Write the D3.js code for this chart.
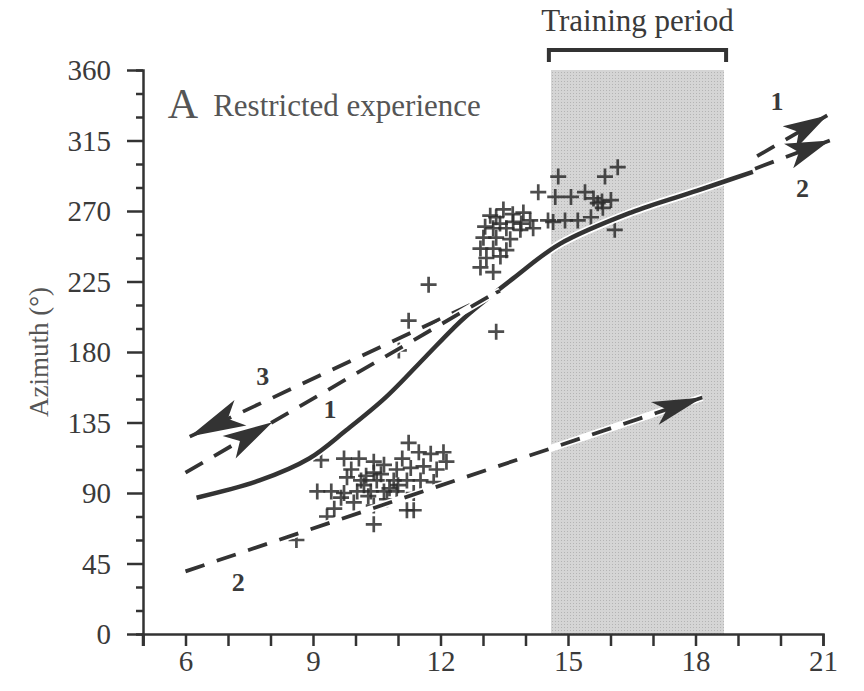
<!DOCTYPE html>
<html lang="en">
<head>
<meta charset="UTF-8">
<title>Restricted experience</title>
<script src="https://d3js.org/d3.v7.min.js"></script>
<style>
  body { margin: 0; background: #fff; }
  svg { display: block; }
  text { font-family: "Liberation Serif", "DejaVu Serif", serif; fill: #3a3a3a; }
  .tick-label { font-size: 29px; }
  .num { font-size: 26px; font-weight: bold; }
</style>
</head>
<body>
<script>
// time of day (h) vs azimuth (deg)
const trainStart = 14.6, trainEnd = 18.67;

const solidX = [6.26, 7.74, 8.91, 9.78, 10.71, 11.65, 12.26, 12.61, 13.71, 14.81, 16.48, 18.04, 19.35];
const solidY = [87, 98, 112, 130, 151, 177, 194, 203, 227, 249, 269, 283, 295];

// dashed lines: [x0, x1], [y0, y1]
const line3X = [13.4, 6.1],   line3Y = [219, 126];
const line1X = [6.0, 13.3],   line1Y = [103, 218];
const line2X = [6.0, 18.16],  line2Y = [40, 151];
const lineAX = [19.45, 21.1], lineAY = [305, 331];
const lineBX = [19.4, 21.16], lineBY = [297, 315];

// pluses, morning group and afternoon group
const amX = [9.19, 9.73, 10.08, 10.43, 11.25, 11.49, 11.77, 12.07, 12.14, 10.67, 10.43, 10.97, 11.30, 11.60, 11.91,
  9.80, 10.13, 10.50, 10.90, 11.21, 11.53, 11.84, 9.10, 9.43, 9.73, 10.04, 10.36, 10.67, 10.97, 11.37,
  9.66, 9.96, 10.43, 10.74, 11.21, 11.37, 9.50, 10.43, 8.61, 9.33,
  10.20, 10.60, 11.00, 10.30, 9.90, 11.10, 10.80, 10.25];
const amY = [111, 112, 112, 110, 122, 116, 115, 116, 110, 108, 103, 105, 106, 107, 105,
  100, 98, 98, 98, 98, 98, 97, 91, 91, 90, 91, 91, 91, 91, 90,
  87, 84, 82, 86, 79, 79, 80, 70, 60, 75,
  95, 102, 95, 88, 105, 112, 93, 101];
const pmX = [13.48, 13.95, 13.17, 13.31, 13.71, 14.11, 13.24, 13.55, 13.88, 14.18, 13.01, 13.31, 13.64,
  12.94, 13.24, 13.55, 13.08, 13.41, 12.94, 13.24, 14.65, 14.77, 15.87, 16.17, 14.30, 14.70, 15.07,
  15.40, 15.70, 16.01, 15.82, 14.53, 14.93, 15.23, 15.54, 16.10, 11.72, 11.25, 11.02, 13.31,
  13.70, 13.90, 13.40, 13.05, 15.60, 15.80];
const pmY = [271, 269, 267, 266, 263, 264, 259, 259, 258, 259, 253, 253, 252,
  246, 246, 245, 240, 241, 234, 231, 263, 292, 292, 298, 282, 279, 279,
  282, 275, 277, 272, 264, 264, 264, 266, 258, 223, 200, 181, 193,
  268, 262, 262, 260, 278, 276];

const xTicks = [6, 9, 12, 15, 18, 21];
const yTicks = [0, 45, 90, 135, 180, 225, 270, 315, 360];

const numLabels = [
  { t: "1", x: 19.92, y: 340 }, { t: "2", x: 20.52, y: 285 },
  { t: "3", x: 7.82, y: 165 }, { t: "1", x: 9.4, y: 144 }, { t: "2", x: 7.24, y: 33 }
];

const W = 864, H = 691;
const x = d3.scaleLinear().domain([5, 21]).range([143, 823]);
const y = d3.scaleLinear().domain([0, 360]).range([634, 70]);
const ink = "#333";

const svg = d3.select("body").append("svg").attr("width", W).attr("height", H);

const defs = svg.append("defs");
const pat = defs.append("pattern").attr("id", "dots")
  .attr("width", 3).attr("height", 3).attr("patternUnits", "userSpaceOnUse");
pat.append("rect").attr("width", 3).attr("height", 3).attr("fill", "#d5d5d5");
pat.append("rect").attr("width", 1).attr("height", 1).attr("fill", "#b4b4b4");

// training period shading + bracket
svg.append("rect")
  .attr("x", x(trainStart)).attr("y", y(360))
  .attr("width", x(trainEnd) - x(trainStart)).attr("height", y(0) - y(360))
  .attr("fill", "url(#dots)");

svg.append("path")
  .attr("d", `M${x(trainStart - 0.05)},${62}V${50}H${x(trainEnd + 0.05)}V${62}`)
  .attr("fill", "none").attr("stroke", ink).attr("stroke-width", 4);
svg.append("text").attr("x", (x(trainStart) + x(trainEnd)) / 2).attr("y", 31)
  .attr("text-anchor", "middle").style("font-size", "31px").text("Training period");

// axes
const yAxis = svg.append("g").attr("transform", `translate(${x(5)},0)`)
  .call(d3.axisLeft(y).tickValues(d3.range(0, 361, 15)).tickSize(7).tickFormat(""));
yAxis.selectAll(".tick line").filter(d => d % 45 === 0).attr("x2", -16);
yAxis.selectAll(".tick").filter(d => d % 45 === 0).append("text")
  .attr("class", "tick-label").attr("x", -32).attr("dy", "0.34em")
  .attr("text-anchor", "end").text(d => d);

const xAxis = svg.append("g").attr("transform", `translate(0,${y(0)})`)
  .call(d3.axisBottom(x).tickValues(d3.range(5, 22)).tickSize(12).tickFormat(""));
xAxis.selectAll(".tick").filter(d => xTicks.includes(d)).append("text")
  .attr("class", "tick-label").attr("y", 37).attr("text-anchor", "middle").text(d => d);

[yAxis, xAxis].forEach(a => {
  a.select(".domain").attr("stroke", ink).attr("stroke-width", 2.5);
  a.selectAll(".tick line").attr("stroke", ink).attr("stroke-width", 2.5);
});
svg.append("line").attr("x1", x(5)).attr("x2", x(5)).attr("y1", y(0)).attr("y2", y(0) + 12)
  .attr("stroke", ink).attr("stroke-width", 2.5);

svg.append("text").attr("transform", `translate(48,${y(180)}) rotate(-90)`)
  .attr("text-anchor", "middle").style("font-size", "27px").style("fill", "#555")
  .text("Azimuth (°)");

svg.append("text").attr("x", x(5.58)).attr("y", 118).style("font-size", "42px").style("fill", "#555").text("A");
svg.append("text").attr("x", x(6.65)).attr("y", 116).style("font-size", "31px").style("fill", "#555")
  .text("Restricted experience");

// pluses
const plusPath = (px, py, r) => `M${px - r},${py}H${px + r}M${px},${py - r}V${py + r}`;
const pts = amX.map((v, i) => [v, amY[i]]).concat(pmX.map((v, i) => [v, pmY[i]]));
svg.append("g").selectAll("path").data(pts).join("path")
  .attr("d", d => plusPath(x(d[0]), y(d[1]), 8))
  .attr("stroke", "#2e2e2e").attr("stroke-width", 2.7).attr("opacity", 0.85);

// lines
const lineGen = d3.line().x(d => x(d[0])).y(d => y(d[1]));
const curveGen = d3.line().x(d => x(d[0])).y(d => y(d[1])).curve(d3.curveCatmullRom);

const solid = solidX.map((v, i) => [v, solidY[i]]);
svg.append("path").attr("d", curveGen(solid)).attr("fill", "none")
  .attr("stroke", "#fff").attr("stroke-width", 8);
svg.append("path").attr("d", curveGen(solid)).attr("fill", "none")
  .attr("stroke", ink).attr("stroke-width", 4.5);

function arrowHead(tip, from, len, half) {
  const dx = tip[0] - from[0], dy = tip[1] - from[1];
  const n = Math.hypot(dx, dy), ux = dx / n, uy = dy / n;
  const bx = tip[0] - ux * len, by = tip[1] - uy * len;
  const nx = tip[0] - ux * len * 0.75, ny = tip[1] - uy * len * 0.75;
  return `M${tip[0]},${tip[1]}L${bx - uy * half},${by + ux * half}L${nx},${ny}L${bx + uy * half},${by - ux * half}Z`;
}

function dashed(xs, ys, arrowAt, len, half) {
  const p0 = [x(xs[0]), y(ys[0])], p1 = [x(xs[1]), y(ys[1])];
  const d = lineGen([[xs[0], ys[0]], [xs[1], ys[1]]]);
  svg.append("path").attr("d", d).attr("stroke", "#fff").attr("stroke-width", 7).attr("fill", "none");
  svg.append("path").attr("d", d).attr("stroke", ink).attr("stroke-width", 3.8)
    .attr("stroke-dasharray", "20,13").attr("fill", "none");
  const tip = [p0[0] + (p1[0] - p0[0]) * arrowAt, p0[1] + (p1[1] - p0[1]) * arrowAt];
  svg.append("path").attr("d", arrowHead(tip, p0, len, half)).attr("fill", ink);
}

dashed(line3X, line3Y, 1, 56, 14);
dashed(line1X, line1Y, 0.28, 50, 13);
dashed(line2X, line2Y, 1, 50, 12);
dashed(lineAX, lineAY, 1, 44, 13);
dashed(lineBX, lineBY, 1, 44, 13);

svg.append("g").selectAll("text").data(numLabels).join("text")
  .attr("class", "num").attr("x", d => x(d.x)).attr("y", d => y(d.y))
  .attr("dy", "0.35em").attr("text-anchor", "middle").text(d => d.t);
</script>
</body>
</html>
